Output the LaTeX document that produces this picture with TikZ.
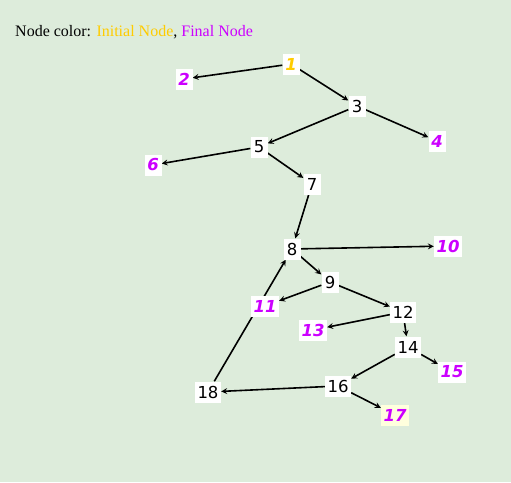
\documentclass[tikz,border=0pt]{standalone}
\usepackage{fontspec}
\setmainfont{Liberation Serif}
\newfontfamily\nodefont{DejaVu Sans}
\usetikzlibrary{arrows}
\usetikzlibrary{positioning}
\definecolor{bgcol}{RGB}{221,236,219}
\definecolor{initcol}{RGB}{255,204,0}
\definecolor{finalcol}{RGB}{204,0,255}
\definecolor{marked}{RGB}{255,255,221}
\pgfdeclarelayer{back}
\pgfdeclarelayer{edges}
\pgfsetlayers{back,edges,main}
\tikzset{
    state/.style={fill=white, inner sep=2.5pt, minimum width=17pt, minimum height=21pt, font=\nodefont\fontsize{16.5}{16.5}\selectfont},
    initial/.style={state, text=initcol, font=\nodefont\bfseries\itshape\fontsize{16.5}{16.5}\selectfont},
    final/.style={state, text=finalcol, font=\nodefont\bfseries\itshape\fontsize{16.5}{16.5}\selectfont},
    trans/.style={->, >=stealth, line width=1.6pt}
}
\begin{document}
\begin{tikzpicture}[x=1pt, y=-1pt]
        \begin{pgfonlayer}{back}
        \fill [bgcol] (0,0) rectangle (511,482);
        \end{pgfonlayer}
        \useasboundingbox (0,0) rectangle (511,482);
        \node [anchor=west, inner sep=0pt, font=\fontsize{16}{16}\selectfont] (legend) at (15,32.5) {Node color: \textcolor{initcol}{Initial Node}, \textcolor{finalcol}{Final Node}};
        \node [initial] (n1) at (291,64) {1};
        \node [final] (n2) at (184,79) {2};
        \node [state] (n3) at (357,106) {3};
        \node [final] (n4) at (437,141) {4};
        \node [state] (n5) at (259,147) {5};
        \node [final] (n6) at (153,165) {6};
        \node [state] (n7) at (312,184) {7};
        \node [state] (n8) at (292,249) {8};
        \node [state] (n9) at (330,282) {9};
        \node [final] (n10) at (448,246) {10};
        \node [final] (n11) at (265,306) {11};
        \node [state] (n12) at (403,312) {12};
        \node [final] (n13) at (313,330) {13};
        \node [state] (n14) at (408,347) {14};
        \node [final] (n15) at (452,372) {15};
        \node [state] (n16) at (338,386) {16};
        \node [final, fill=marked] (n17) at (395,415) {17};
        \node [state] (n18) at (208,392) {18};
        \begin{pgfonlayer}{edges}
        \draw [trans] (n1) -- (n2);
        \draw [trans] (n1) -- (n3);
        \draw [trans] (n3) -- (n5);
        \draw [trans] (n3) -- (n4);
        \draw [trans] (n5) -- (n6);
        \draw [trans] (n5) -- (n7);
        \draw [trans] (n7) -- (n8);
        \draw [trans] (n8) -- (n10);
        \draw [trans] (n8) -- (n9);
        \draw [trans] (n9) -- (n11);
        \draw [trans] (n9) -- (n12);
        \draw [trans] (n12) -- (n13);
        \draw [trans] (n12) -- (n14);
        \draw [trans] (n14) -- (n16);
        \draw [trans] (n14) -- (n15);
        \draw [trans] (n16) -- (n18);
        \draw [trans] (n16) -- (n17);
        \draw [trans] (n18) -- (n8);
        \end{pgfonlayer}
    \end{tikzpicture}
\end{document}
